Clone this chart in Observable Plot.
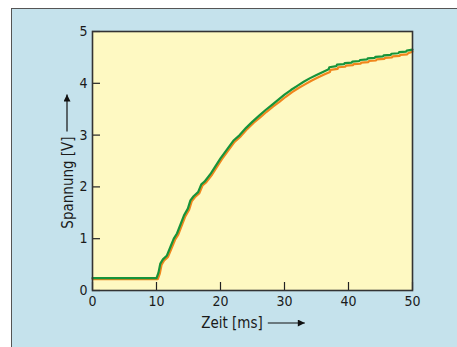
<!DOCTYPE html>
<html>
<head>
<meta charset="utf-8">
<script src="https://cdn.jsdelivr.net/npm/d3@7"></script>
<script src="https://cdn.jsdelivr.net/npm/@observablehq/plot@0.6"></script>
<style>
  html, body { margin: 0; padding: 0; background: #ffffff; }
  #wrap { position: relative; width: 457px; height: 347px; overflow: hidden; }
  #panel { position: absolute; left: 11px; top: 8px; right: 0; bottom: 0;
           background: #c5e2ec; border-left: 1.5px solid #555; border-top: 1.5px solid #555; }
  #chart { position: absolute; left: 0; top: 0; }
  #chart svg { background: transparent !important; }
  #chart svg text { font-stretch: condensed; }
</style>
</head>
<body>
<div id="wrap"><div id="panel"></div><div id="chart"></div></div>
<script>
// Data
const xTicks = [0, 10, 20, 30, 40, 50];
const yTicks = [0, 1, 2, 3, 4, 5];
const xLabel = "Zeit [ms]";
const yLabel = "Spannung [V]";

const greenT = [0, 10.0, 10.3, 10.6, 11.0, 11.6, 12.2, 12.7, 13.2, 14.3, 14.9, 15.3, 15.8, 16.5, 17.0, 17.5, 18.5, 20.0, 21.0, 22.0, 23.0, 24.0, 25.0, 26.0, 27.0, 28.0, 29.0, 30.0, 31.0, 32.0, 33.0, 34.0, 35.0, 36.0, 36.9, 37.0, 38.1, 38.2, 39.3, 39.4, 40.5, 40.6, 41.7, 41.8, 42.9, 43.0, 44.1, 44.2, 45.4, 45.5, 46.6, 46.7, 47.8, 47.9, 49.0, 49.1, 50.0];
const greenV = [0.24, 0.24, 0.34, 0.52, 0.60, 0.67, 0.85, 1.00, 1.10, 1.45, 1.58, 1.74, 1.82, 1.90, 2.05, 2.10, 2.26, 2.55, 2.72, 2.89, 3.00, 3.14, 3.26, 3.37, 3.48, 3.58, 3.68, 3.78, 3.87, 3.95, 4.03, 4.10, 4.16, 4.22, 4.27, 4.31, 4.33, 4.36, 4.37, 4.39, 4.40, 4.42, 4.43, 4.45, 4.46, 4.48, 4.49, 4.51, 4.52, 4.54, 4.55, 4.57, 4.58, 4.60, 4.61, 4.63, 4.65];

const orangeT = [0, 10.2, 10.5, 10.8, 11.2, 11.8, 12.4, 12.9, 13.4, 14.5, 15.1, 15.5, 16.0, 16.7, 17.2, 17.7, 18.7, 20.2, 21.2, 22.2, 23.2, 24.2, 25.2, 26.2, 27.2, 28.2, 29.2, 30.2, 31.2, 32.2, 33.2, 34.2, 35.2, 36.2, 37.1, 37.2, 38.3, 38.4, 39.5, 39.6, 40.7, 40.8, 41.9, 42.0, 43.1, 43.2, 44.3, 44.4, 45.6, 45.7, 46.8, 46.9, 48.0, 48.1, 49.2, 49.3, 50.0];
const orangeV = [0.22, 0.22, 0.32, 0.50, 0.58, 0.65, 0.83, 0.98, 1.08, 1.43, 1.56, 1.72, 1.80, 1.88, 2.03, 2.08, 2.24, 2.53, 2.70, 2.87, 2.98, 3.12, 3.24, 3.34, 3.45, 3.55, 3.64, 3.74, 3.83, 3.91, 3.98, 4.05, 4.11, 4.17, 4.22, 4.26, 4.28, 4.31, 4.32, 4.34, 4.35, 4.37, 4.38, 4.40, 4.41, 4.43, 4.44, 4.46, 4.47, 4.49, 4.50, 4.52, 4.53, 4.55, 4.56, 4.58, 4.61];

const green = greenT.map((t, i) => ({t, v: greenV[i]}));
const orange = orangeT.map((t, i) => ({t, v: orangeV[i]}));

const FONT = "'DejaVu Sans', sans-serif";

const chart = Plot.plot({
  width: 457,
  height: 347,
  marginLeft: 92,
  marginRight: 45,
  marginTop: 31,
  marginBottom: 57,
  style: {background: "transparent", fontFamily: FONT, fontSize: "14px", color: "#1a1a1a", overflow: "visible"},
  x: {domain: [0, 50], ticks: xTicks},
  y: {domain: [0, 5], ticks: yTicks},
  marks: [
    Plot.frame({fill: "#fef9c2", stroke: null}),
    Plot.gridX(xTicks, {insetTop: 251, stroke: "#222", strokeOpacity: 1, strokeWidth: 1.2}),
    Plot.gridY(yTicks, {insetRight: 312, stroke: "#222", strokeOpacity: 1, strokeWidth: 1.2}),
    Plot.axisX(xTicks, {tickSize: 0, tickPadding: 6, label: null, tickFormat: d3.format("d"), fontSize: 14}),
    Plot.axisY(yTicks, {tickSize: 0, tickPadding: 5, label: null, tickFormat: d3.format("d"), fontSize: 14}),
    Plot.line(orange, {x: "t", y: "v", stroke: "#f0861c", strokeWidth: 2.2}),
    Plot.line(green, {x: "t", y: "v", stroke: "#16943a", strokeWidth: 2.2}),
    Plot.frame({stroke: "#333", strokeWidth: 1.6})
  ]
});
document.getElementById("chart").appendChild(chart);

// axis titles with arrows
const svg = d3.select(chart);
const defs = svg.append("defs");
defs.append("marker").attr("id", "ah").attr("viewBox", "0 0 10 10")
  .attr("refX", 10).attr("refY", 5).attr("markerWidth", 9).attr("markerHeight", 7)
  .attr("markerUnits", "userSpaceOnUse").attr("orient", "auto")
  .append("path").attr("d", "M0,0L10,5L0,10Z").attr("fill", "#111");

const xs = d3.scaleLinear().domain([0, 50]).range([92, 412]);
const ys = d3.scaleLinear().domain([0, 5]).range([290, 31]);
const cx = (xs.range()[0] + xs.range()[1]) / 2 - 20;
const xt = svg.append("text").attr("x", cx).attr("y", 328)
  .attr("text-anchor", "middle").attr("font-family", FONT).attr("font-size", 15).attr("fill", "#1a1a1a").text(xLabel);
const xb = xt.node().getBBox();
svg.append("line").attr("x1", xb.x + xb.width + 5).attr("x2", xb.x + xb.width + 42)
  .attr("y1", 323).attr("y2", 323).attr("stroke", "#111").attr("stroke-width", 1.2).attr("marker-end", "url(#ah)");

const cy = (ys.range()[0] + ys.range()[1]) / 2 + 22;
const yt = svg.append("text").attr("transform", `translate(73,${cy}) rotate(-90)`)
  .attr("text-anchor", "middle").attr("font-family", FONT).attr("font-size", 15).attr("fill", "#1a1a1a").text(yLabel);
const yb = yt.node().getBBox();
const yTop = cy - yb.width / 2;
svg.append("line").attr("x1", 67).attr("x2", 67).attr("y1", yTop - 5).attr("y2", yTop - 42)
  .attr("stroke", "#111").attr("stroke-width", 1.2).attr("marker-end", "url(#ah)");
</script>
</body>
</html>
